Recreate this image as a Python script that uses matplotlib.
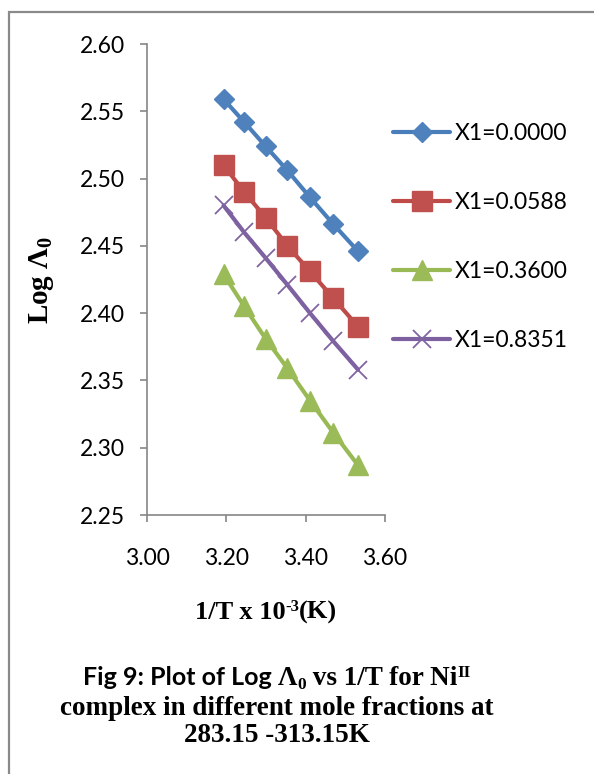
import matplotlib
matplotlib.use("Agg")
import matplotlib.pyplot as plt
from matplotlib.patches import Rectangle

# 1/T x 10^3 for T = 313.15 ... 283.15 K
inv_temp = [3.193, 3.245, 3.299, 3.354, 3.411, 3.470, 3.532]

log_cond_x0000 = [2.559, 2.542, 2.524, 2.506, 2.486, 2.466, 2.446]
log_cond_x0588 = [2.510, 2.490, 2.471, 2.450, 2.431, 2.411, 2.390]
log_cond_x3600 = [2.429, 2.405, 2.381, 2.359, 2.335, 2.311, 2.287]
log_cond_x8351 = [2.480, 2.460, 2.441, 2.421, 2.400, 2.379, 2.358]

series_labels = ["X1=0.0000", "X1=0.0588", "X1=0.3600", "X1=0.8351"]

x_ticks = [3.00, 3.20, 3.40, 3.60]
y_ticks = [2.25, 2.30, 2.35, 2.40, 2.45, 2.50, 2.55, 2.60]

plt.rcParams["mathtext.fontset"] = "custom"
plt.rcParams["mathtext.rm"] = "Liberation Serif:bold"
plt.rcParams["mathtext.bf"] = "Liberation Serif:bold"
plt.rcParams["mathtext.it"] = "Liberation Serif:bold"

W, H = 594, 774
fig = plt.figure(figsize=(W / 100, H / 100), dpi=100)
fig.patch.set_facecolor("white")
renderer = fig.canvas.get_renderer()

# frame around the figure block
fig.patches.append(Rectangle((9 / W, -0.2), 1.2, 1.2 - 12 / H,
                             transform=fig.transFigure, fill=False,
                             edgecolor="#8a8a8a", linewidth=1.6))

ax_l, ax_r, ax_t, ax_b = 147, 385, 44, 515
ax = fig.add_axes([ax_l / W, 1 - ax_b / H, (ax_r - ax_l) / W, (ax_b - ax_t) / H])

styles = [
    dict(color="#4A7EBB", marker="D", markersize=10, mfc="#4F81BD", mec="#4F81BD"),
    dict(color="#BE4B48", marker="s", markersize=14, mfc="#C0504D", mec="#C0504D"),
    dict(color="#98B954", marker="^", markersize=14, mfc="#9BBB59", mec="#9BBB59"),
    dict(color="#7D60A0", marker="x", markersize=13, mfc="#8064A2", mec="#8064A2",
         markeredgewidth=1.3),
]
data = [log_cond_x0000, log_cond_x0588, log_cond_x3600, log_cond_x8351]
for vals, lab, st in zip(data, series_labels, styles):
    ax.plot(inv_temp, vals, linewidth=3.0, label=lab, solid_capstyle="round", **st)

ax.set_xlim(3.00, 3.60)
ax.set_ylim(2.25, 2.60)
ax.set_xticks(x_ticks)
ax.set_yticks(y_ticks)
ax.set_xticklabels([f"{v:.2f}" for v in x_ticks])
ax.set_yticklabels([f"{v:.2f}" for v in y_ticks])

for side in ("top", "right"):
    ax.spines[side].set_visible(False)
for side in ("left", "bottom"):
    ax.spines[side].set_color("#868686")
    ax.spines[side].set_linewidth(1.2)

ax.tick_params(axis="both", direction="out", length=5, width=1.2, color="#868686")
ax.tick_params(axis="y", pad=11)
ax.tick_params(axis="x", pad=19)
for lbl in ax.get_xticklabels() + ax.get_yticklabels():
    lbl.set_fontfamily("Lato")
    lbl.set_fontsize(16.5)
    lbl.set_color("black")

leg = ax.legend(loc="center left", bbox_to_anchor=(393 / W, 1 - 237 / H),
                bbox_transform=fig.transFigure, frameon=False,
                prop=dict(family="Lato", size=16.5), handlelength=2.5,
                handletextpad=0.2, labelspacing=2.1, borderpad=0,
                borderaxespad=0)

fig.text(42 / W, 1 - 280 / H, r"Log $\mathbf{\Lambda_0}$", rotation=90,
         ha="center", va="center", family="Liberation Serif",
         weight="bold", size=21)


def text_run(pieces, cx_px, base_px):
    """Draw text pieces side by side, centred on cx_px, baseline at base_px.

    Each piece is (string, font kwargs, vertical shift in px)."""
    widths = []
    for s, kw, _ in pieces:
        t = fig.text(0, 0, s, **kw)
        widths.append(t.get_window_extent(renderer).width)
        t.remove()
    x = cx_px - sum(widths) / 2
    for (s, kw, dy), w in zip(pieces, widths):
        fig.text(x / W, 1 - (base_px - dy) / H, s, ha="left", va="baseline", **kw)
        x += w


serif = dict(family="Liberation Serif", weight="bold")
serif_big = dict(serif, size=19)
serif_small = dict(serif, size=12)

# x-axis title with superscript exponent
text_run([("1/T x 10", serif_big, 0),
          ("-3", serif_small, 8),
          ("(K)", serif_big, 0)], 266, 619)

# caption
cap_cx = 277
sans_cap = dict(family="Lato", weight="bold", size=18)
text_run([("Fig 9: Plot of Log ", sans_cap, 0),
          ("\u039b", dict(serif, size=19.5), 0),
          ("0", dict(serif, size=12.5), -4),
          (" vs 1/T for Ni", dict(serif, size=19.5), 0),
          ("II", dict(serif, size=12.5), 8)], cap_cx, 685)
fig.text(cap_cx / W, 1 - 715 / H, "complex in different mole fractions at",
         ha="center", va="baseline", size=19.5, **serif)
fig.text(cap_cx / W, 1 - 742 / H, "283.15 -313.15K", ha="center",
         va="baseline", size=19.5, **serif)

fig.savefig("out.png", dpi=100, facecolor="white")
